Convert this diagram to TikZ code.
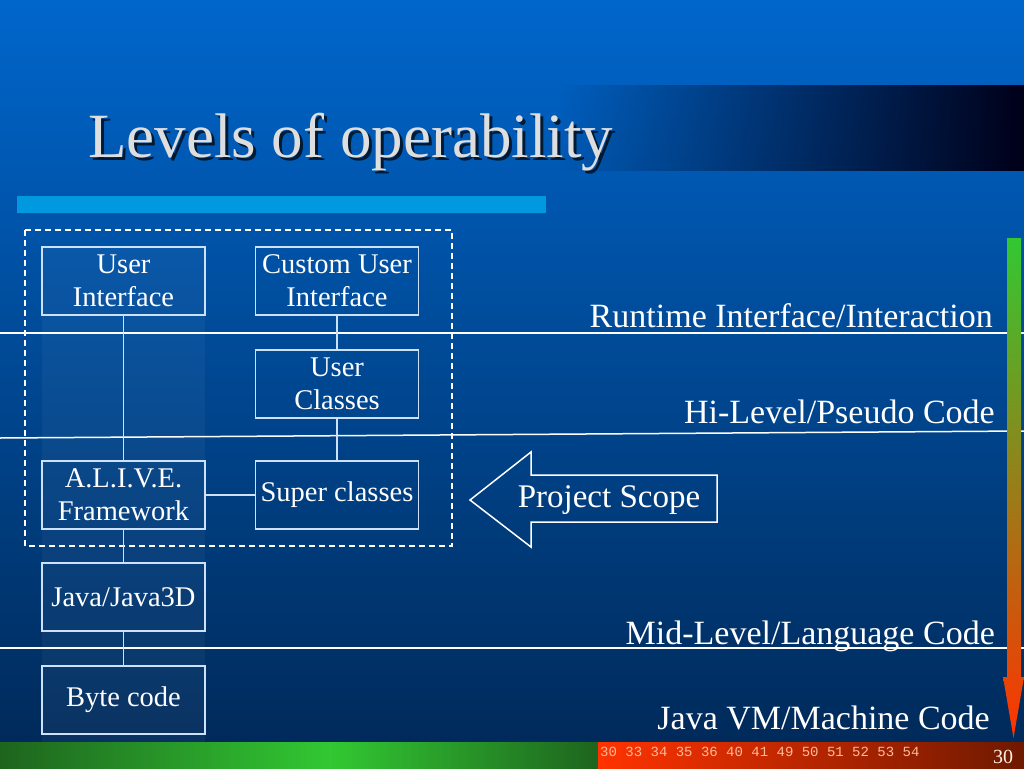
\documentclass[tikz,border=0pt]{standalone}
\usepackage{fontspec}
\setmainfont{Liberation Serif}
\newfontfamily\numfont{Liberation Mono}
\usetikzlibrary{fadings}
\definecolor{bgtop}{RGB}{0,102,204}
\definecolor{bgbot}{RGB}{0,42,90}
\definecolor{boxline}{RGB}{205,225,250}
\definecolor{barblue}{RGB}{0,153,224}
\definecolor{titlegray}{RGB}{222,222,222}
\definecolor{darkgreen}{RGB}{30,100,30}
\definecolor{litegreen}{RGB}{50,200,50}
\definecolor{redorange}{RGB}{255,51,0}
\definecolor{darkred}{RGB}{110,25,0}
\definecolor{numpink}{RGB}{255,185,155}
\definecolor{olive}{RGB}{200,140,30}
\tikzfading[name=darkright, left color=transparent!100, right color=transparent!0]

\begin{document}
\begin{tikzpicture}[x=1pt, y=-1pt,
    unit/.style={
        draw=boxline, line width=1.5pt, minimum width=163pt, minimum height=68pt,
        inner sep=0pt, align=center, text=white, font=\fontsize{28.5}{33}\selectfont
    },
    link/.style={-, draw=boxline, line width=1.5pt},
    level/.style={white, line width=1.5pt},
    levlab/.style={anchor=base east, text=white, inner sep=0pt,
                   font=\fontsize{34}{38}\selectfont},
    scopebox/.style={white, line width=1.5pt, dash pattern=on 6pt off 4pt},
]
\useasboundingbox (0,0) rectangle (1024,768);

% ================= background =================
\fill[top color=bgtop, bottom color=bgbot] (0,0) rectangle (1024,742);
\fill[white, opacity=0.04] (42,247) rectangle (205,742);
\fill[black!90!blue, path fading=darkright] (560,85) rectangle (1024,171);
\fill[barblue] (17,196) rectangle (546,213);

% title with shadow
\node[anchor=base west, inner sep=0pt, text=black, opacity=0.7,
      font=\fontsize{63}{70}\selectfont] (titleshadow) at (91,160) {Levels of operability};
\node[anchor=base west, inner sep=0pt, text=titlegray,
      font=\fontsize{63}{70}\selectfont] (title) at (88,157) {Levels of operability};

% ================= levels =================
\draw[level] (0,333) -- (1024,333);
\draw[level] (0,438) -- (1024,431);
\draw[level] (0,648) -- (1024,648);

\node[levlab] (runtime) at (993,327) {Runtime Interface/Interaction};
\node[levlab] (hilevel) at (995,423) {Hi-Level/Pseudo Code};
\node[levlab] (midlevel) at (995,644) {Mid-Level/Language Code};
\node[levlab] (vmlevel) at (990,729) {Java VM/Machine Code};

% ================= units =================
\draw[scopebox] (25,230) rectangle (452,546);

\node[unit] (ui) at (123.5,281) {User\\Interface};
\node[unit] (cui) at (337,281) {Custom User\\Interface};
\node[unit] (uc) at (337,384) {User\\Classes};
\node[unit] (alive) at (123.5,495) {A.L.I.V.E.\\Framework};
\node[unit] (sc) at (337,495) {Super classes};
\node[unit] (java) at (123.5,597) {Java/Java3D};
\node[unit] (byte) at (123.5,700) {Byte code};

\draw[link] (ui) -- (alive);
\draw[link] (cui) -- (uc);
\draw[link] (uc) -- (sc);
\draw[link] (alive) -- (sc);
\draw[link] (alive) -- (java);
\draw[link] (java) -- (byte);

% project scope arrow
\draw[white, line width=1.5pt, line join=miter]
    (470,500) -- (531,452) -- (531,475) -- (717,475) -- (717,522)
    -- (531,522) -- (531,547) -- cycle;
\node[text=white, inner sep=0pt, font=\fontsize{33}{36}\selectfont] (proj) at (609,500) {Project Scope};

% ================= right arrow =================
\shade[top color=litegreen, middle color=olive, bottom color=redorange]
    (1007,238) -- (1021,238) -- (1021,677) -- (1024,677) -- (1013.5,738)
    -- (1003,677) -- (1007,677) -- cycle;

% ================= bottom bar =================
\shade[left color=darkgreen, right color=litegreen] (0,742) rectangle (330,768);
\shade[left color=litegreen, right color=darkgreen] (330,742) rectangle (598,768);
\shade[left color=redorange, right color=darkred] (598,742) rectangle (1024,768);
\node[anchor=west, inner sep=0pt, text=numpink, font=\numfont\fontsize{14}{16}\selectfont]
    (slides) at (600,752) {30 33 34 35 36 40 41 49 50 51 52 53 54};
\node[text=white!90!orange, inner sep=0pt, font=\fontsize{20}{22}\selectfont]
    (pageno) at (1003,757) {30};

\end{tikzpicture}
\end{document}
